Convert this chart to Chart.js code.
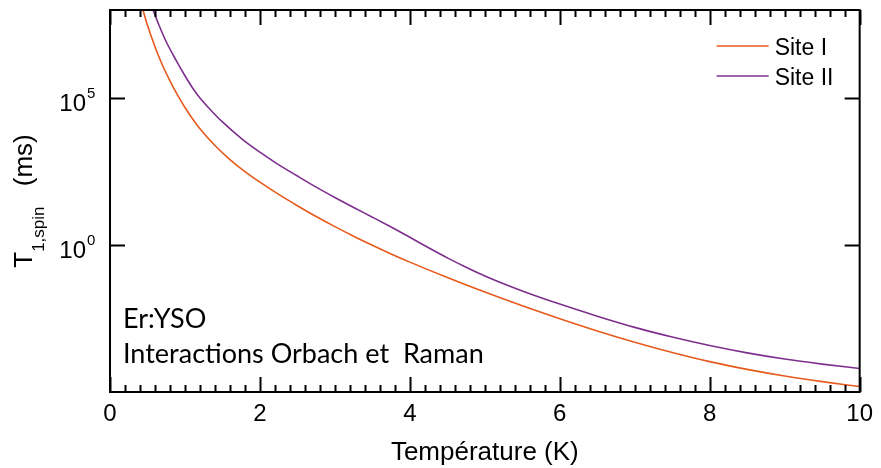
<!DOCTYPE html>
<html>
<head>
<meta charset="utf-8">
<script src="https://cdn.jsdelivr.net/npm/chart.js@4.4.0/dist/chart.umd.min.js"></script>
<style>
  html, body { margin: 0; padding: 0; background: #fff; }
</style>
</head>
<body>
<canvas id="t1SpinChart" width="881" height="468"></canvas>
<script>
// Valeurs (T en K, T1 en ms)
const tempSiteI = [0.44, 0.5, 0.6, 0.7, 0.8, 0.9, 1.0, 1.1, 1.2, 1.4, 1.6, 1.8, 2.0, 2.25, 2.5, 2.75, 3.0, 3.25, 3.5, 3.75, 4.0, 4.5, 5.0, 5.5, 6.0, 6.5, 7.0, 7.5, 8.0, 8.5, 9.0, 9.5, 10.0];
const t1SiteI = [1.0e8, 3.0e7, 5.6e6, 1.32e6, 3.9e5, 1.29e5, 4.8e4, 2.0e4, 9.1e3, 2.45e3, 813, 316, 138, 53, 21.9, 9.4, 4.25, 2.01, 0.99, 0.50, 0.263, 0.0785, 0.0251, 8.6e-3, 3.13e-3, 1.20e-3, 4.95e-4, 2.21e-4, 1.08e-4, 5.9e-5, 3.5e-5, 2.26e-5, 1.53e-5];

const tempSiteII = [0.575, 0.65, 0.75, 0.886, 1.0, 1.106, 1.2, 1.33, 1.5, 1.77, 2.0, 2.21, 2.5, 2.75, 3.0, 3.25, 3.5, 3.75, 4.0, 4.25, 4.5, 4.75, 5.0, 5.5, 6.0, 6.5, 7.0, 7.5, 8.0, 8.5, 9.0, 9.5, 10.0];
const t1SiteII = [1.0e8, 3.2e7, 8.3e6, 1.86e6, 5.8e5, 2.14e5, 1.02e5, 4.3e4, 1.55e4, 3.9e3, 1.45e3, 631, 224, 94, 41.7, 19.1, 8.9, 4.1, 1.84, 0.81, 0.367, 0.176, 0.089, 0.0275, 9.8e-3, 3.8e-3, 1.58e-3, 7.4e-4, 3.8e-4, 2.14e-4, 1.32e-4, 8.9e-5, 6.3e-5];

const seriesLabels = ['Site I', 'Site II'];
const seriesColors = ['#E65A1C', '#7E2F8E'];
const yTickExponents = [5, 0];
const annotationLines = ['Er:YSO', 'Interactions Orbach et  Raman'];

const toPoints = (xs, ys) => xs.map((t, i) => ({ x: t, y: ys[i] }));

// Cadre, graduations internes, étiquettes en puissance de 10, légende et texte
const framePlugin = {
  id: 'framePlugin',
  afterDraw(chart) {
    const { ctx, chartArea: a, scales: { x, y } } = chart;
    ctx.save();
    ctx.strokeStyle = '#000';
    ctx.fillStyle = '#000';
    ctx.lineWidth = 2;
    ctx.strokeRect(a.left, a.top, a.right - a.left, a.bottom - a.top);

    // graduations en x : majeures tous les 2 K, mineures tous les 0.2 K
    ctx.beginPath();
    for (let i = 0; i <= 50; i++) {
      const px = Math.round(x.getPixelForValue(x.min + i * 0.2)) + 0.5;
      const len = i % 10 === 0 ? 15 : 7;
      ctx.moveTo(px, a.bottom); ctx.lineTo(px, a.bottom - len);
      ctx.moveTo(px, a.top); ctx.lineTo(px, a.top + len);
    }
    // graduations en y
    yTickExponents.forEach(e => {
      const py = Math.round(y.getPixelForValue(Math.pow(10, e))) + 0.5;
      ctx.moveTo(a.left, py); ctx.lineTo(a.left + 15, py);
      ctx.moveTo(a.right, py); ctx.lineTo(a.right - 15, py);
    });
    ctx.stroke();

    // étiquettes 10^n
    ctx.textBaseline = 'alphabetic';
    yTickExponents.forEach(e => {
      const py = y.getPixelForValue(Math.pow(10, e));
      ctx.font = '24px "Liberation Sans", Arial, sans-serif';
      ctx.textAlign = 'right';
      ctx.fillText('10', a.left - 24, py + 13);
      ctx.font = '15px "Liberation Sans", Arial, sans-serif';
      ctx.textAlign = 'left';
      ctx.fillText(String(e), a.left - 23, py);
    });

    // titre de l'axe y : T_{1,spin} (ms)
    const big = '26px "Liberation Sans", Arial, sans-serif';
    const small = '17px "Liberation Sans", Arial, sans-serif';
    ctx.font = big;
    const wT = ctx.measureText('T').width;
    const wMs = ctx.measureText(' (ms)').width;
    ctx.font = small;
    const wSub = ctx.measureText('1,spin').width + 13;
    const total = wT + wSub + wMs;
    ctx.translate(32, (a.top + a.bottom) / 2);
    ctx.rotate(-Math.PI / 2);
    ctx.textAlign = 'left';
    let cx = -total / 2;
    ctx.font = big;
    ctx.fillText('T', cx, 0);
    cx += wT;
    ctx.font = small;
    ctx.fillText('1,spin', cx, 12);
    cx += wSub;
    ctx.font = big;
    ctx.fillText(' (ms)', cx, 0);
    ctx.setTransform(1, 0, 0, 1, 0, 0);

    // légende
    ctx.font = '23px "Liberation Sans", Arial, sans-serif';
    ctx.textAlign = 'left';
    chart.data.datasets.forEach((ds, i) => {
      const ly = a.top + 36 + i * 30;
      ctx.strokeStyle = ds.borderColor;
      ctx.lineWidth = 1.6;
      ctx.beginPath();
      ctx.moveTo(a.right - 143, ly);
      ctx.lineTo(a.right - 91, ly);
      ctx.stroke();
      ctx.fillText(ds.label, a.right - 85, ly + 9);
    });

    // annotations
    ctx.font = '27px Lato, "Open Sans", sans-serif';
    ctx.fillText(annotationLines[0], a.left + 13, a.bottom - 64);
    ctx.fillText(annotationLines[1], a.left + 13, a.bottom - 29);
    ctx.restore();
  }
};

const ctx = document.getElementById('t1SpinChart').getContext('2d');

new Chart(ctx, {
  type: 'line',
  data: {
    datasets: [
      {
        label: seriesLabels[0],
        data: toPoints(tempSiteI, t1SiteI),
        borderColor: seriesColors[0],
        borderWidth: 1.6,
        pointRadius: 0,
        cubicInterpolationMode: 'monotone',
        fill: false
      },
      {
        label: seriesLabels[1],
        data: toPoints(tempSiteII, t1SiteII),
        borderColor: seriesColors[1],
        borderWidth: 1.6,
        pointRadius: 0,
        cubicInterpolationMode: 'monotone',
        fill: false
      }
    ]
  },
  options: {
    responsive: false,
    animation: false,
    devicePixelRatio: 1,
    layout: { padding: { left: 110, right: 18, top: 10, bottom: 0 } },
    plugins: {
      legend: { display: false },
      tooltip: { enabled: false }
    },
    scales: {
      x: {
        type: 'linear',
        min: 0,
        max: 10,
        grid: { display: false, drawTicks: false },
        border: { display: false },
        ticks: {
          stepSize: 2,
          padding: 8,
          color: '#000',
          font: { size: 24, family: '"Liberation Sans", Arial, sans-serif' }
        },
        title: {
          display: true,
          text: 'Température (K)',
          color: '#000',
          padding: { top: 0, bottom: 0 },
          font: { size: 26, family: '"Liberation Sans", Arial, sans-serif' }
        }
      },
      y: {
        type: 'logarithmic',
        min: 1e-5,
        max: 1e8,
        display: false
      }
    }
  },
  plugins: [framePlugin]
});
</script>
</body>
</html>
